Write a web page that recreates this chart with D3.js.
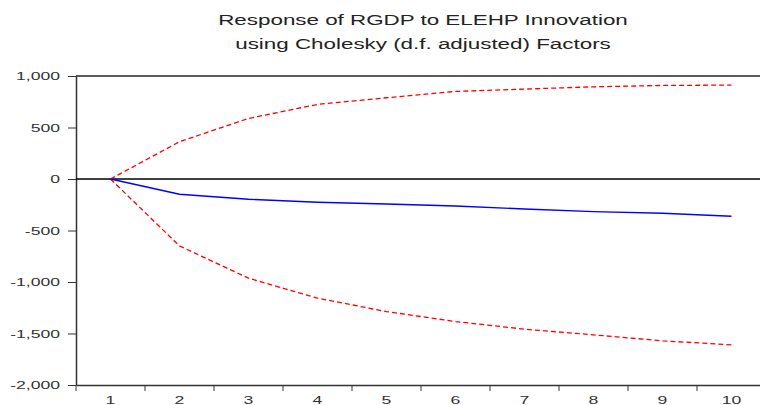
<!DOCTYPE html>
<html>
<head>
<meta charset="utf-8">
<script src="https://cdn.jsdelivr.net/npm/d3@7"></script>
<style>
  body { margin: 0; background: #fff; }
  svg { display: block; font-family: "Liberation Sans", Arial, sans-serif; }
</style>
</head>
<body>
<div id="chart"></div>
<script>
// Periods and impulse response values
var periods = [1, 2, 3, 4, 5, 6, 7, 8, 9, 10];
var response = [0, -148, -197, -226, -243, -262, -291, -317, -333, -362];
var upperBand = [0, 362, 588, 724, 789, 850, 873, 895, 908, 912];
var lowerBand = [0, -650, -963, -1157, -1287, -1384, -1458, -1513, -1571, -1610];
var yTicks = [-2000, -1500, -1000, -500, 0, 500, 1000];
var titleLines = ["Response of RGDP to ELEHP Innovation", "using Cholesky (d.f. adjusted) Factors"];

var width = 760;
var height = 405;
var margin = { top: 76, right: -6, bottom: 20, left: 76 };
var textStretch = 1.6;   // the source picture is stretched sideways
var titleStretch = 1.6;

var svg = d3.select("#chart")
    .append("svg")
    .attr("width", width)
    .attr("height", height);

var x = d3.scaleBand()
    .domain(periods)
    .range([margin.left, width - margin.right]);

var y = d3.scaleLinear()
    .domain([-2000, 1000])
    .range([height - margin.bottom, margin.top]);

var fmt = function(d) { return d3.format(",")(d).replace("\u2212", "-"); };

// Title
svg.append("g")
  .selectAll("text")
  .data(titleLines)
  .enter()
  .append("text")
    .attr("transform", (d, i) => "translate(423," + (25 + i * 24) + ") scale(" + titleStretch + ",1)")
    .attr("text-anchor", "middle")
    .attr("fill", "#222")
    .style("font-size", "14px")
    .text(d => d);

// Top frame line
svg.append("line")
    .attr("x1", margin.left).attr("x2", width - margin.right)
    .attr("y1", y(1000)).attr("y2", y(1000))
    .attr("stroke", "#5a5a5a")
    .attr("stroke-width", 2);

// Y axis
var yAxis = svg.append("g")
    .attr("transform", "translate(" + margin.left + ",0)")
    .call(d3.axisLeft(y).tickValues(yTicks).tickFormat(fmt).tickSize(8).tickSizeOuter(0));
yAxis.select(".domain").attr("stroke", "#333").attr("stroke-width", 1.5);
yAxis.selectAll(".tick line").attr("stroke", "#333");
yAxis.selectAll(".tick text")
    .attr("x", -16 / textStretch)
    .attr("transform", "scale(" + textStretch + ",1)")
    .attr("fill", "#333")
    .style("font-size", "11px")
    .style("font-family", "'Liberation Sans', Arial, sans-serif");

// X axis: labels centred in each period, ticks at period boundaries
var xAxis = svg.append("g")
    .attr("transform", "translate(0," + y(-2000) + ")")
    .call(d3.axisBottom(x).tickSize(0).tickPadding(11).tickSizeOuter(0));
xAxis.select(".domain").attr("stroke", "#333").attr("stroke-width", 1.5);
xAxis.selectAll(".tick text")
    .attr("transform", "scale(" + textStretch + ",1)")
    .attr("fill", "#333")
    .style("font-size", "11px")
    .style("font-family", "'Liberation Sans', Arial, sans-serif");

xAxis.selectAll(".boundary")
  .data(periods)
  .enter()
  .append("line")
    .attr("class", "boundary")
    .attr("x1", d => x(d)).attr("x2", d => x(d))
    .attr("y1", 0).attr("y2", 6)
    .attr("stroke", "#333");

// Zero line
svg.append("line")
    .attr("x1", margin.left).attr("x2", width - margin.right)
    .attr("y1", y(0)).attr("y2", y(0))
    .attr("stroke", "#000")
    .attr("stroke-width", 1.6);

var line = d3.line()
    .x((d, i) => x(periods[i]) + x.bandwidth() / 2)
    .y(d => y(d));

// Confidence bands
[upperBand, lowerBand].forEach(function(band) {
  svg.append("path")
      .datum(band)
      .attr("d", line)
      .attr("fill", "none")
      .attr("stroke", "#ff0000")
      .attr("stroke-width", 1.3)
      .attr("stroke-dasharray", "5,3");
});

// Response
svg.append("path")
    .datum(response)
    .attr("d", line)
    .attr("fill", "none")
    .attr("stroke", "#0000ff")
    .attr("stroke-width", 1.4);
</script>
</body>
</html>
